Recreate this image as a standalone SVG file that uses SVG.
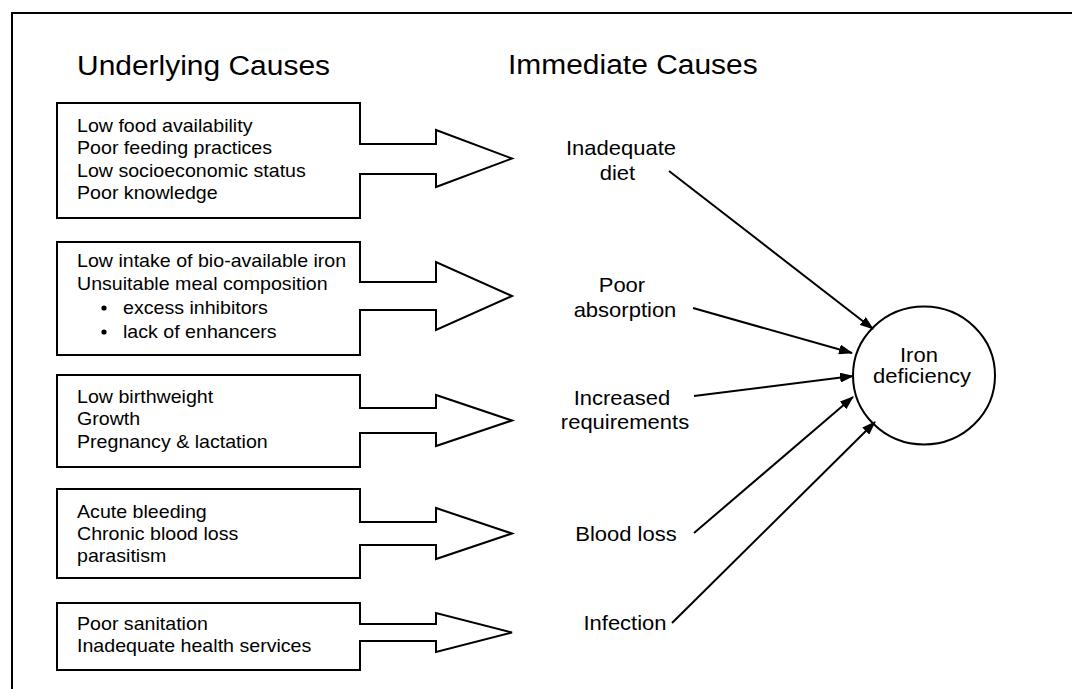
<svg xmlns="http://www.w3.org/2000/svg" width="1072" height="689" viewBox="0 0 1072 689">
  <style>
    .outline { fill: #fff; stroke: #000; stroke-width: 2; stroke-linejoin: miter; }
    .frame { fill: none; stroke: #000; stroke-width: 2; }
    .body { font-family: "Liberation Sans", Arial, sans-serif; font-size: 18px; fill: #000; }
    .label { font-family: "Liberation Sans", Arial, sans-serif; font-size: 20px; fill: #000; text-anchor: middle; }
    .title { font-family: "Liberation Sans", Arial, sans-serif; font-size: 28px; fill: #000; }
    .link { fill: none; stroke: #000; stroke-width: 2; }
  </style>
  <defs>
    <marker id="head" viewBox="0 0 14 10" refX="13" refY="5" markerWidth="14" markerHeight="10" markerUnits="userSpaceOnUse" orient="auto">
      <path d="M0,0 L14,5 L0,10 Z" fill="#000"/>
    </marker>
  </defs>

  <rect width="1072" height="689" fill="#fff"/>

  <!-- outer frame, open to the right and bottom -->
  <path class="frame" d="M12,689 V13 H1072"/>

  <!-- column headings -->
  <text class="title" transform="translate(77,75) scale(1.07,1)">Underlying Causes</text>
  <text class="title" transform="translate(508,74) scale(1.07,1)">Immediate Causes</text>

  <!-- underlying causes: each box ends in a block arrow -->
  <g id="cause-food">
    <path class="outline" d="M57,103 H360 V144 H436 V130 L512,158.5 L436,187 V174 H360 V218 H57 Z"/>
    <text class="body" transform="translate(77,132) scale(1.09,1)">
      <tspan x="0" y="0">Low food availability</tspan>
      <tspan x="0" y="22.5">Poor feeding practices</tspan>
      <tspan x="0" y="45">Low socioeconomic status</tspan>
      <tspan x="0" y="67.5">Poor knowledge</tspan>
    </text>
  </g>

  <g id="cause-meal">
    <path class="outline" d="M57,242 H360 V282 H436 V262 L512,296 L436,330 V310 H360 V355 H57 Z"/>
    <text class="body" transform="translate(77,267) scale(1.09,1)">
      <tspan x="0" y="0">Low intake of bio-available iron</tspan>
      <tspan x="0" y="23.5">Unsuitable meal composition</tspan>
    </text>
    <circle cx="104" cy="308" r="2.6" fill="#000"/>
    <circle cx="104" cy="332" r="2.6" fill="#000"/>
    <text class="body" transform="translate(123,314) scale(1.09,1)">
      <tspan x="0" y="0">excess inhibitors</tspan>
      <tspan x="0" y="24">lack of enhancers</tspan>
    </text>
  </g>

  <g id="cause-requirements">
    <path class="outline" d="M57,375 H360 V408 H436 V395 L512,420.5 L436,446 V433 H360 V467 H57 Z"/>
    <text class="body" transform="translate(77,403) scale(1.09,1)">
      <tspan x="0" y="0">Low birthweight</tspan>
      <tspan x="0" y="22.5">Growth</tspan>
      <tspan x="0" y="45">Pregnancy &amp; lactation</tspan>
    </text>
  </g>

  <g id="cause-bleeding">
    <path class="outline" d="M57,489 H360 V522 H436 V508 L512,533.5 L436,559 V545 H360 V578 H57 Z"/>
    <text class="body" transform="translate(77,518) scale(1.09,1)">
      <tspan x="0" y="0">Acute bleeding</tspan>
      <tspan x="0" y="22">Chronic blood loss</tspan>
      <tspan x="0" y="44">parasitism</tspan>
    </text>
  </g>

  <g id="cause-sanitation">
    <path class="outline" d="M57,603 H360 V624 H436 V613 L512,632.5 L436,652 V641 H360 V670 H57 Z"/>
    <text class="body" transform="translate(77,630) scale(1.09,1)">
      <tspan x="0" y="0">Poor sanitation</tspan>
      <tspan x="0" y="22">Inadequate health services</tspan>
    </text>
  </g>

  <!-- immediate causes -->
  <g id="diet">
    <text class="label" transform="translate(624,155) scale(1.1,1)">
      <tspan x="0" y="0">Inadequate</tspan>
      <tspan x="-6" y="25">diet</tspan>
    </text>
  </g>
  <g id="absorption">
    <text class="label" transform="translate(625,292) scale(1.1,1)">
      <tspan x="0" y="0">Poor</tspan>
      <tspan x="0" y="25">absorption</tspan>
    </text>
  </g>
  <g id="requirements">
    <text class="label" transform="translate(625,405) scale(1.1,1)">
      <tspan x="0" y="0">Increased</tspan>
      <tspan x="0" y="24">requirements</tspan>
    </text>
  </g>
  <g id="blood-loss">
    <text class="label" transform="translate(626,541) scale(1.1,1)">Blood loss</text>
  </g>
  <g id="infection">
    <text class="label" transform="translate(625,630) scale(1.1,1)">Infection</text>
  </g>

  <!-- outcome -->
  <g id="iron-deficiency">
    <ellipse class="outline" cx="924" cy="375.5" rx="71" ry="69"/>
    <text class="label" transform="translate(922,362) scale(1.1,1)">
      <tspan x="0" y="0">Iron</tspan>
      <tspan x="0" y="21">deficiency</tspan>
    </text>
  </g>

  <!-- connectors from immediate causes to the outcome -->
  <g id="connectors">
    <line class="link" x1="669" y1="171" x2="873" y2="329" marker-end="url(#head)"/>
    <line class="link" x1="693" y1="308" x2="852" y2="353" marker-end="url(#head)"/>
    <line class="link" x1="694" y1="396" x2="853" y2="376" marker-end="url(#head)"/>
    <line class="link" x1="694" y1="533" x2="853" y2="397" marker-end="url(#head)"/>
    <line class="link" x1="672" y1="623" x2="875" y2="422" marker-end="url(#head)"/>
  </g>
</svg>
